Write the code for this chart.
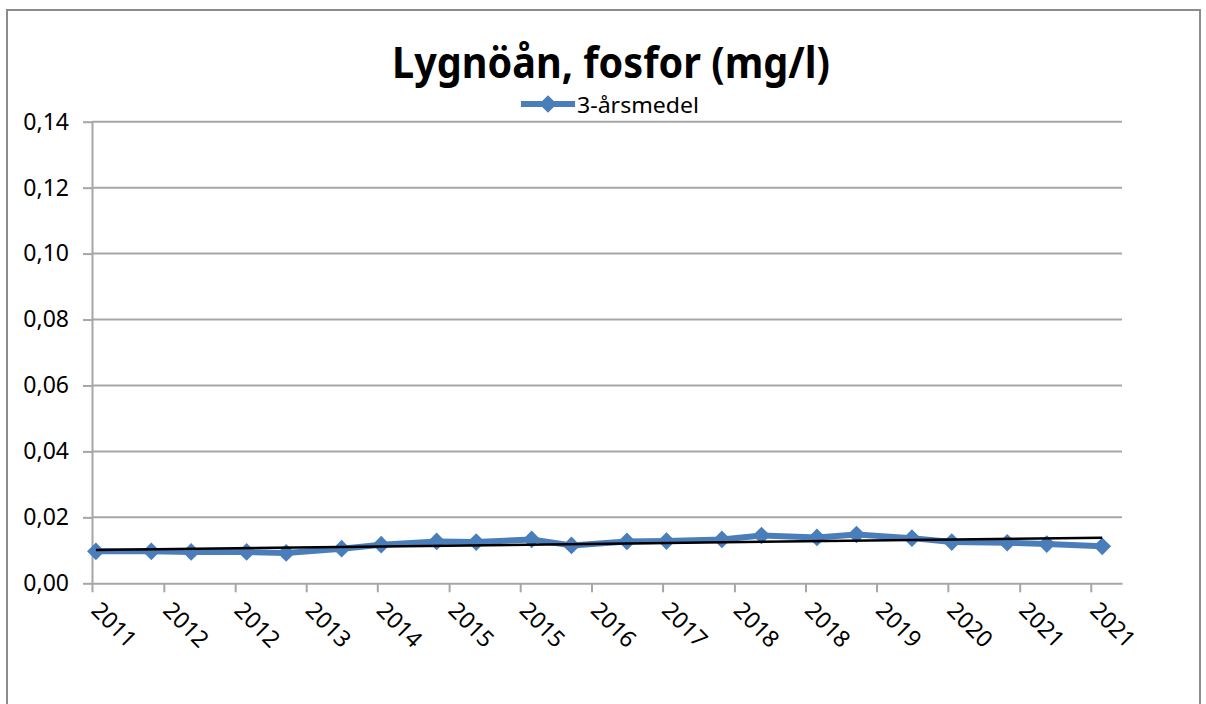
<!DOCTYPE html>
<html>
<head>
<meta charset="utf-8">
<script src="https://cdn.jsdelivr.net/npm/d3@7"></script>
<style>
  body { margin: 0; background: #fff; }
  text { font-family: "Noto Sans", sans-serif; fill: #000; }
</style>
</head>
<body>
<div class="svgContainer"></div>
<script>
let sampleDates = [
  "2011-05-16", "2011-12-15", "2012-05-16", "2012-12-15", "2013-05-16", "2013-12-15",
  "2014-05-16", "2014-12-15", "2015-05-16", "2015-12-15", "2016-05-16", "2016-12-15",
  "2017-05-16", "2017-12-15", "2018-05-16", "2018-12-15", "2019-05-16", "2019-12-15",
  "2020-05-16", "2020-12-15", "2021-05-16", "2021-12-15"
];
let phosphorus = [
  0.0097, 0.0097, 0.0095, 0.0095, 0.0092, 0.0105,
  0.0117, 0.0127, 0.0125, 0.0133, 0.0115, 0.0127,
  0.0128, 0.0133, 0.0145, 0.0139, 0.0148, 0.0137,
  0.0125, 0.0123, 0.0119, 0.0112
];
// excel date axis, major unit 9 months
let tickDates = [
  "2011-05-01", "2012-02-01", "2012-11-01", "2013-08-01", "2014-05-01",
  "2015-02-01", "2015-11-01", "2016-08-01", "2017-05-01", "2018-02-01",
  "2018-11-01", "2019-08-01", "2020-05-01", "2021-02-01", "2021-11-01"
];
let yTicks = [0, 0.02, 0.04, 0.06, 0.08, 0.1, 0.12, 0.14];
let xDomain = ["2011-05-01", "2022-03-01"];
let title = "Lygnöån, fosfor (mg/l)";
let seriesName = "3-årsmedel";

let width = 1206,
  height = 704,
  plotLeft = 92,
  plotRight = 1122,
  plotTop = 121.7,
  plotBottom = 583.3,
  blue = "#4a7ebb",
  grid = "#a6a6a6";

let parse = d3.timeParse("%Y-%m-%d");
let fmtYear = d3.timeFormat("%Y");
let fmtComma = d3.formatLocale({ decimal: ",", thousands: " ", grouping: [3], currency: ["", ""] }).format(".2f");

let data = sampleDates.map((d, i) => ({ date: parse(d), value: phosphorus[i] }));

let svg = d3
  .select(".svgContainer")
  .append("svg")
  .attr("width", width)
  .attr("height", height);

// chart frame
svg
  .append("rect")
  .attr("x", 7)
  .attr("y", 10)
  .attr("width", 1193)
  .attr("height", 720)
  .attr("fill", "none")
  .attr("stroke", "#8c8c8c")
  .attr("stroke-width", 2);

let xScale = d3
  .scaleTime()
  .domain(xDomain.map(parse))
  .range([plotLeft, plotRight]);

let yScale = d3
  .scaleLinear()
  .domain([0, 0.14])
  .range([plotBottom, plotTop]);

// gridlines
svg
  .append("g")
  .selectAll("line")
  .data(yTicks.slice(1))
  .enter()
  .append("line")
  .attr("x1", plotLeft)
  .attr("x2", plotRight)
  .attr("y1", d => yScale(d))
  .attr("y2", d => yScale(d))
  .attr("stroke", grid)
  .attr("stroke-width", 2);

let yAxis = d3
  .axisLeft(yScale)
  .tickValues(yTicks)
  .tickSize(9)
  .tickSizeOuter(0)
  .tickPadding(14)
  .tickFormat(d => fmtComma(d));

let yAxisGroup = svg
  .append("g")
  .attr("transform", "translate(" + plotLeft + ",0)")
  .call(yAxis);

let xAxis = d3
  .axisBottom(xScale)
  .tickValues(tickDates.map(parse))
  .tickSize(9)
  .tickSizeOuter(0)
  .tickFormat(d => fmtYear(d));

let xAxisGroup = svg
  .append("g")
  .attr("transform", "translate(0," + plotBottom + ")")
  .call(xAxis);

[xAxisGroup, yAxisGroup].forEach(g => {
  g.selectAll("path, line").attr("stroke", grid).attr("stroke-width", 2);
  g.selectAll("text").style("font-size", "23px").attr("fill", "#000");
});

xAxisGroup
  .selectAll("text")
  .attr("x", 0)
  .attr("y", 0)
  .attr("dy", "0.71em")
  .attr("text-anchor", "start")
  .attr("transform", "translate(9,17) rotate(45)");

// series line
let line = d3
  .line()
  .x(d => xScale(d.date))
  .y(d => yScale(d.value));

svg
  .append("path")
  .datum(data)
  .attr("d", line)
  .attr("fill", "none")
  .attr("stroke", blue)
  .attr("stroke-width", 6)
  .attr("stroke-linejoin", "round");

let diamond = d3.symbol().type(d3.symbolDiamond2).size(200);

svg
  .append("g")
  .selectAll("path")
  .data(data)
  .enter()
  .append("path")
  .attr("d", diamond)
  .attr("transform", d => "translate(" + xScale(d.date) + "," + yScale(d.value) + ")")
  .attr("fill", blue);

// linear trendline (least squares over time)
let xs = data.map(d => +d.date),
  ys = data.map(d => d.value),
  mx = d3.mean(xs),
  my = d3.mean(ys);
let slope = d3.sum(xs, (x, i) => (x - mx) * (ys[i] - my)) / d3.sum(xs, x => (x - mx) * (x - mx));
let trend = [data[0].date, data[data.length - 1].date].map(d => ({
  date: d,
  value: my + slope * (+d - mx)
}));

svg
  .append("path")
  .datum(trend)
  .attr("d", line)
  .attr("fill", "none")
  .attr("stroke", "#000")
  .attr("stroke-width", 2.5);

// title
svg
  .append("text")
  .attr("x", 611)
  .attr("y", 78)
  .attr("text-anchor", "middle")
  .attr("textLength", 438)
  .attr("lengthAdjust", "spacingAndGlyphs")
  .style("font-size", "43px")
  .style("font-weight", "bold")
  .text(title);

// legend
let legend = svg.append("g").attr("transform", "translate(521,104)");
legend
  .append("line")
  .attr("x1", 0)
  .attr("x2", 54)
  .attr("stroke", blue)
  .attr("stroke-width", 6);
legend
  .append("path")
  .attr("d", diamond)
  .attr("transform", "translate(27,0)")
  .attr("fill", blue);
legend
  .append("text")
  .attr("x", 56)
  .attr("y", 9)
  .attr("textLength", 122)
  .attr("lengthAdjust", "spacingAndGlyphs")
  .style("font-size", "21px")
  .text(seriesName);
</script>
</body>
</html>
